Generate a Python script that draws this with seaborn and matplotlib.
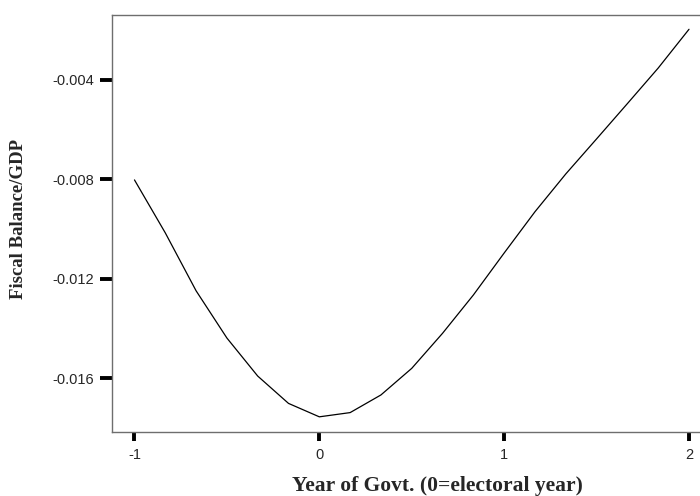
import numpy as np
import pandas as pd
import seaborn as sns
import matplotlib.pyplot as plt

# year of government relative to the electoral year (steps of 1/6)
year = [-1, -5/6, -4/6, -3/6, -2/6, -1/6, 0, 1/6, 2/6, 3/6, 4/6, 5/6,
        1, 7/6, 8/6, 9/6, 10/6, 11/6, 2]
fiscal_balance = [-0.00802, -0.01015, -0.01248, -0.01438, -0.01591, -0.01701,
                  -0.01755, -0.01738, -0.01667, -0.01560, -0.01419, -0.01265,
                  -0.01096, -0.00930, -0.00778, -0.00637, -0.00495, -0.00352,
                  -0.00196]
xticks = [-1, 0, 1, 2]
yticks = [-0.004, -0.008, -0.012, -0.016]

df = pd.DataFrame({"year": year, "balance": fiscal_balance})

sns.set_style("ticks")
plt.rcParams["font.family"] = ["Liberation Sans", "DejaVu Sans"]

fig = plt.figure(figsize=(7, 4.96), dpi=100)
ax = fig.add_axes([0.16, 0.1284, 0.84, 0.8420])

sns.lineplot(data=df, x="year", y="balance", color="black", linewidth=0.9, ax=ax)

ax.set_xlim(-1.1216, 2.0595)
ax.set_ylim(-0.018173, -0.001373)
ax.set_xticks(xticks)
ax.set_xticklabels([str(t) for t in xticks])
ax.set_yticks(yticks)
ax.set_yticklabels([f"{t:.3f}" for t in yticks])

for side in ["left", "bottom", "top"]:
    ax.spines[side].set_color("#6e6e6e")
    ax.spines[side].set_linewidth(1.0)
ax.spines["right"].set_visible(False)

ax.tick_params(axis="y", length=9, width=2.8, color="black", pad=4, labelsize=10.5)
ax.tick_params(axis="x", length=6.5, width=2.8, color="black", pad=5, labelsize=10.5)

ax.set_xlabel("")
ax.set_ylabel("Fiscal Balance/GDP", family=["Liberation Serif"], fontweight="bold",
              fontsize=13.5)
ax.yaxis.set_label_coords(-0.145, 0.51)
fig.text(437 / 700, 1 - 486 / 496, "Year of Govt. (0=electoral year)",
         family=["Liberation Serif"], fontweight="bold", fontsize=15.5,
         ha="center", va="center")

fig.savefig("out.png", dpi=100)
